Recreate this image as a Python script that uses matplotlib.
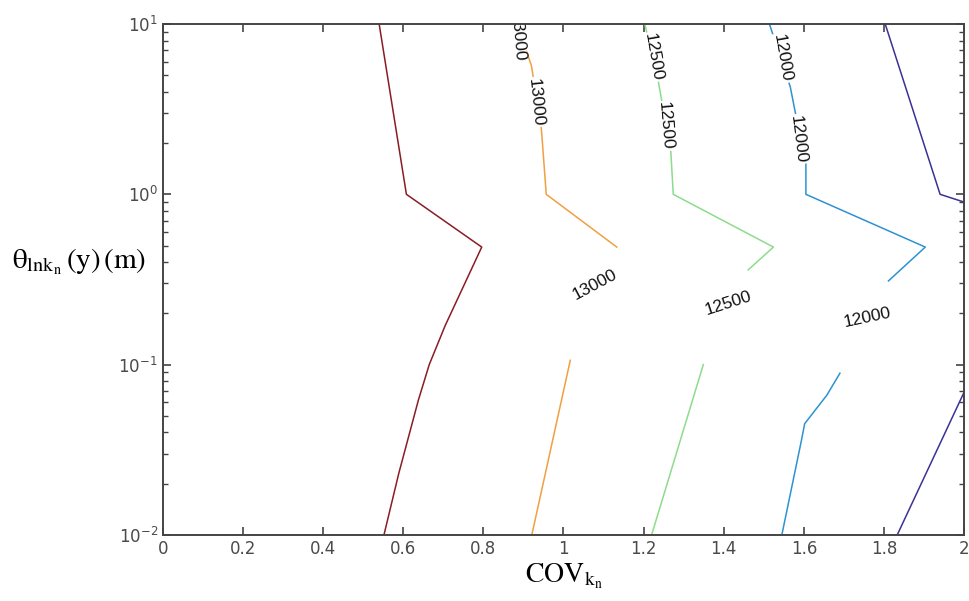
import numpy as np
from matplotlib import pyplot as plt

plt.rcParams['mathtext.fontset'] = 'stix'

# contour lines (x = COV, y = theta)
红_x = [0.540, 0.608, 0.796, 0.705, 0.665, 0.638, 0.589, 0.552]
红_y = [10, 1.0, 0.49, 0.17, 0.1, 0.062, 0.023, 0.01]

橙上_x = [0.884, 0.920, 0.945, 0.957, 1.133]
橙上_y = [10, 5.7, 2.4, 1.0, 0.49]
橙下_x = [0.921, 1.017]
橙下_y = [0.01, 0.106]

绿上_x = [1.203, 1.236, 1.268, 1.274, 1.524, 1.461]
绿上_y = [10, 4.7, 1.77, 1.0, 0.49, 0.36]
绿下_x = [1.220, 1.349]
绿下_y = [0.01, 0.1]

蓝上_x = [1.514, 1.566, 1.591, 1.605, 1.605, 1.903, 1.811]
蓝上_y = [10, 4.28, 2.15, 1.53, 1.0, 0.49, 0.31]
蓝下_x = [1.545, 1.594, 1.602, 1.657, 1.690]
蓝下_y = [0.01, 0.036, 0.045, 0.066, 0.089]

紫上_x = [1.803, 1.940, 2.0]
紫上_y = [10, 1.0, 0.9]
紫下_x = [1.833, 2.0]
紫下_y = [0.01, 0.069]

# inline labels: text, x, y, rotation
标签 = [
    ('13000', 0.884, 8.3, -85),
    ('13000', 0.930, 3.48, -84),
    ('12500', 1.223, 6.4, -80),
    ('12500', 1.253, 2.52, -85),
    ('12000', 1.546, 6.3, -80),
    ('12000', 1.586, 2.11, -83),
    ('13000', 1.079, 0.293, 28),
    ('12500', 1.411, 0.23, 18),
    ('12000', 1.758, 0.188, 12),
]

颜色 = {'红': '#8a1c24', '橙': '#f0a040', '绿': '#8cdc8c',
        '蓝': '#2e92d2', '紫': '#3a3294'}


def 画线(ax):
    ax.plot(红_x, 红_y, color=颜色['红'], lw=1.1)
    for xs, ys in [(橙上_x, 橙上_y), (橙下_x, 橙下_y)]:
        ax.plot(xs, ys, color=颜色['橙'], lw=1.1)
    for xs, ys in [(绿上_x, 绿上_y), (绿下_x, 绿下_y)]:
        ax.plot(xs, ys, color=颜色['绿'], lw=1.1)
    for xs, ys in [(蓝上_x, 蓝上_y), (蓝下_x, 蓝下_y)]:
        ax.plot(xs, ys, color=颜色['蓝'], lw=1.1)
    for xs, ys in [(紫上_x, 紫上_y), (紫下_x, 紫下_y)]:
        ax.plot(xs, ys, color=颜色['紫'], lw=1.1)


def 写标签(ax):
    for t, x, y, r in 标签:
        ax.text(x, y, t, rotation=r, ha='center', va='center',
                fontsize=12.5, color='#111111', clip_on=True, zorder=2.2,
                rotation_mode='anchor', family='Liberation Sans',
                bbox=dict(facecolor='white', edgecolor='none', pad=0.8))


def main():
    fig = plt.figure(figsize=(9.69, 6.01), dpi=100)
    ax = fig.add_axes([0.168, 0.110, 0.827, 0.850])

    画线(ax)
    写标签(ax)

    ax.set_yscale('log')
    ax.set_xlim(0, 2)
    ax.set_ylim(0.01, 10)
    ax.set_xticks(np.arange(0, 2.01, 0.2))
    ax.set_xticklabels(['0', '0.2', '0.4', '0.6', '0.8', '1', '1.2', '1.4', '1.6', '1.8', '2'])

    for s in ax.spines.values():
        s.set_color('#444444')
        s.set_linewidth(1.4)
    ax.tick_params(which='both', direction='in', top=True, right=True,
                   colors='#444444', labelcolor='#4a4a4a', labelsize=12)
    ax.tick_params(which='major', length=6, width=1.2)
    ax.tick_params(which='minor', length=3.5, width=1.0)

    ax.set_xlabel(r'$\mathrm{COV}_{\mathrm{k}_{\mathrm{n}}}$', fontsize=20, labelpad=3)
    fig.text(0.012, 0.565, r'$\mathrm{θ}_{\mathrm{lnk}_{\mathrm{n}}}\,\mathrm{(y)\,(m)}$',
             fontsize=21, ha='left', va='center')

    fig.savefig('out.png', dpi=100)


if __name__ == '__main__':
    main()
